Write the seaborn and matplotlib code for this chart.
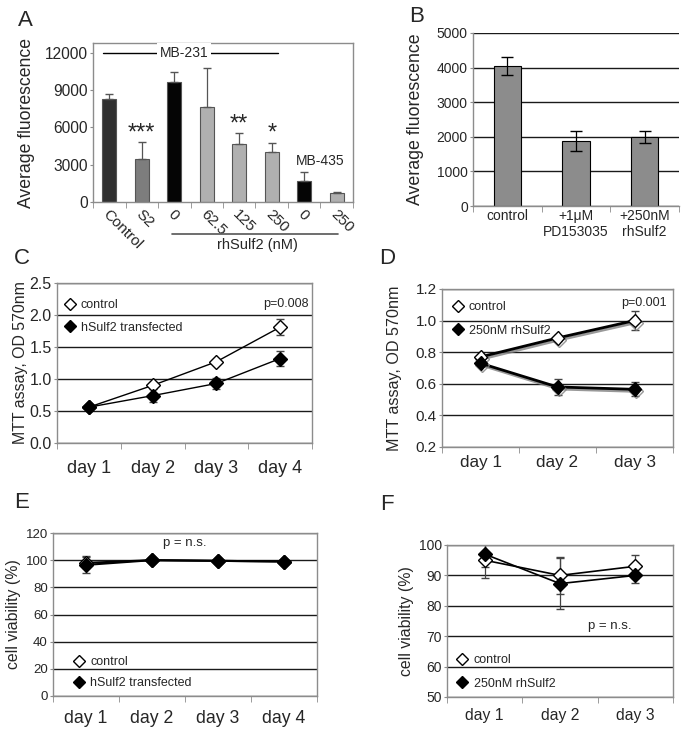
import numpy as np
import pandas as pd
import seaborn as sns
import matplotlib.pyplot as plt
import matplotlib.patheffects as pe
from matplotlib.lines import Line2D
from matplotlib.ticker import FixedLocator, FormatStrFormatter
from matplotlib.transforms import ScaledTranslation

sns.set_style('white')
plt.rcParams['font.family'] = ['Liberation Sans', 'DejaVu Sans']

# Panel A: invasion assay
a_labels = ['Control', 'S2', '0', '62.5', '125', '250', '0', '250']
a_values = [8300, 3500, 9650, 7650, 4650, 4050, 1700, 720]
a_errors = [420, 1300, 850, 3100, 870, 700, 700, 100]
a_colors = ['#303030', '#7d7d7d', '#050505', '#b0b0b0', '#b0b0b0', '#b0b0b0', '#050505', '#b0b0b0']
a_stars = ['', '***', '', '', '**', '*', '', '']

# Panel B
b_labels = ['control', '+1\u03bcM\nPD153035', '+250nM\nrhSulf2']
b_values = [4050, 1880, 2000]
b_errors = [250, 280, 170]

# Panel C: MTT, transfected
c_days = ['day 1', 'day 2', 'day 3', 'day 4']
c_control = [0.56, 0.90, 1.27, 1.81]
c_control_err = [0.03, 0.03, 0.03, 0.12]
c_sulf = [0.56, 0.74, 0.93, 1.32]
c_sulf_err = [0.04, 0.10, 0.09, 0.12]

# Panel D: MTT, rhSulf2
d_days = ['day 1', 'day 2', 'day 3']
d_control = [0.77, 0.89, 1.00]
d_control_err = [0.02, 0.02, 0.06]
d_sulf = [0.73, 0.58, 0.565]
d_sulf_err = [0.02, 0.05, 0.045]

# Panel E: viability, transfected
e_days = ['day 1', 'day 2', 'day 3', 'day 4']
e_control = [98, 100, 99.5, 99]
e_control_err = [4, 0.5, 0.5, 0.5]
e_sulf = [96.5, 100, 99.5, 99]
e_sulf_err = [6.3, 0.5, 0.5, 0.5]

# Panel F: viability, rhSulf2
f_days = ['day 1', 'day 2', 'day 3']
f_control = [95, 90, 93]
f_control_err = [6, 6, 3.7]
f_sulf = [97, 87.3, 90]
f_sulf_err = [4.3, 8.5, 2.6]

W, H = 685, 731
fig = plt.figure(figsize=(W / 100, H / 100), dpi=100)
SPINE = '#8c8c8c'


def ax_at(l, t, r, b):
    return fig.add_axes([l / W, 1 - b / H, (r - l) / W, (b - t) / H])


def style(ax, n, grid=True):
    for s in ax.spines.values():
        s.set_color(SPINE)
        s.set_linewidth(1)
    ax.set_xlim(-0.5, n - 0.5)
    ax.xaxis.set_minor_locator(FixedLocator(np.arange(n + 1) - 0.5))
    ax.tick_params(axis='x', which='major', length=0, bottom=False)
    ax.tick_params(axis='x', which='minor', length=4, color=SPINE, bottom=True, direction='out')
    ax.tick_params(axis='y', length=2.5, color=SPINE, left=True, direction='out', pad=1.2)
    ax.set_xlabel('')
    if grid:
        ax.yaxis.grid(True, color='#1a1a1a', linewidth=1)
    else:
        ax.yaxis.grid(False)
    ax.xaxis.grid(False)


def series(ax, days, vals, errs, filled, lw=1.0, ms=7, shadow=False):
    x = np.arange(len(days))
    ax.errorbar(x, vals, yerr=errs, fmt='none', ecolor='#444444', elinewidth=0.9,
                capsize=3, zorder=2)
    kw = {}
    if shadow:
        kw['path_effects'] = [pe.SimpleLineShadow(offset=(1, -1.5), shadow_color='#808080', alpha=0.8),
                              pe.Normal()]
    sns.lineplot(x=days, y=vals, ax=ax, color='black', lw=lw, marker='D', markersize=ms,
                 markerfacecolor='black' if filled else 'white', markeredgecolor='black',
                 markeredgewidth=1, sort=False, zorder=3, **kw)


def legend(ax, labels, anchor, spacing, fs=9):
    handles = [Line2D([], [], ls='none', marker='D', markersize=6, markerfacecolor='white',
                      markeredgecolor='black'),
               Line2D([], [], ls='none', marker='D', markersize=6, markerfacecolor='black',
                      markeredgecolor='black')]
    ax.legend(handles, labels, loc='upper left', bbox_to_anchor=anchor, frameon=False,
              borderaxespad=0, borderpad=0.2, handlelength=0.8, handletextpad=0.5,
              labelspacing=spacing, fontsize=fs)


def panel_letter(x, y, s):
    fig.text(x / W, 1 - y / H, s, fontsize=16, ha='center', va='center')


# ---- A ----
ax = ax_at(93, 43, 353, 202)
keys = [str(i) for i in range(len(a_labels))]
sns.barplot(x=keys, y=a_values, hue=keys, palette=a_colors, legend=False, order=keys,
            width=0.42, edgecolor='#555555', linewidth=0.8, ax=ax)
ax.errorbar(np.arange(len(keys)), a_values, yerr=[np.zeros(len(keys)), a_errors], fmt='none',
            ecolor='#555555', elinewidth=0.9, capsize=3)
style(ax, len(keys), grid=False)
ax.set_ylim(0, 12800)
ax.set_yticks(np.arange(0, 12001, 3000))
ax.set_xticks(np.arange(len(keys)))
ax.set_xticklabels(a_labels, rotation=-45, ha='left', va='top', fontsize=11)
off = ScaledTranslation(-9 / 100, 0, fig.dpi_scale_trans)
for t in ax.get_xticklabels():
    t.set_transform(t.get_transform() + off)
ax.tick_params(axis='y', labelsize=11.2)
ax.set_ylabel('Average fluorescence', fontsize=12.7)
ax.yaxis.set_label_coords(-0.225, 0.5)
for i, s in enumerate(a_stars):
    if s:
        ax.text(i, a_values[i] + a_errors[i] + 250, s, ha='center', va='baseline', fontsize=17)
ax.plot([-0.2, 5.2], [12000, 12000], color='black', lw=1)
ax.text(2.3, 12000, 'MB-231', ha='center', va='center', fontsize=10,
        bbox=dict(facecolor='white', edgecolor='none', pad=2))
ax.text(6.5, 3300, 'MB-435', ha='center', va='center', fontsize=10)
ax.plot([1.93, 7.04], [-0.2, -0.2], color='#555555', lw=1.2, clip_on=False,
        transform=ax.get_xaxis_transform())
ax.text(4.55, -0.27, 'rhSulf2 (nM)', ha='center', va='center', fontsize=10.5,
        transform=ax.get_xaxis_transform())
panel_letter(25, 20, 'A')

# ---- B ----
ax = ax_at(473, 33, 679, 206)
sns.barplot(x=b_labels, y=b_values, color='#8c8c8c', edgecolor='black', linewidth=0.8,
            width=0.4, saturation=1, ax=ax)
ax.errorbar(np.arange(3), b_values, yerr=b_errors, fmt='none', ecolor='black',
            elinewidth=0.9, capsize=4)
style(ax, 3)
ax.spines['right'].set_visible(False)
ax.spines['top'].set_visible(False)
ax.set_ylim(0, 5000)
ax.set_yticks(np.arange(0, 5001, 1000))
ax.tick_params(axis='both', labelsize=10)
ax.tick_params(axis='x', pad=2)
ax.set_ylabel('Average fluorescence', fontsize=12.8)
ax.yaxis.set_label_coords(-0.24, 0.5)
panel_letter(417, 17, 'B')

# ---- C ----
ax = ax_at(57, 283, 312, 443)
series(ax, c_days, c_control, c_control_err, False)
series(ax, c_days, c_sulf, c_sulf_err, True)
style(ax, 4)
ax.set_ylim(0, 2.5)
ax.set_yticks(np.arange(0, 2.51, 0.5))
ax.yaxis.set_major_formatter(FormatStrFormatter('%.1f'))
ax.tick_params(axis='y', labelsize=11.5)
ax.tick_params(axis='x', labelsize=13, pad=12)
ax.set_ylabel('MTT assay, OD 570nm', fontsize=11.4)
ax.yaxis.set_label_coords(-0.115, 0.5)
legend(ax, ['control', 'hSulf2 transfected'], (0.02, 0.915), 0.85)
ax.text(0.985, 0.87, 'p=0.008', ha='right', va='center', fontsize=9, transform=ax.transAxes)
panel_letter(22, 258, 'C')

# ---- D ----
ax = ax_at(442, 289, 673, 447)
series(ax, d_days, d_control, d_control_err, False, lw=2, shadow=True)
series(ax, d_days, d_sulf, d_sulf_err, True, lw=2, shadow=True)
style(ax, 3)
ax.set_ylim(0.2, 1.2)
ax.set_yticks(np.arange(0.2, 1.21, 0.2))
ax.yaxis.set_major_formatter(FormatStrFormatter('%.1f'))
ax.tick_params(axis='y', labelsize=11)
ax.tick_params(axis='x', labelsize=12.3, pad=6)
ax.set_ylabel('MTT assay, OD 570nm', fontsize=11.6)
ax.yaxis.set_label_coords(-0.175, 0.5)
legend(ax, ['control', '250nM rhSulf2'], (0.035, 0.94), 0.95)
ax.text(0.975, 0.91, 'p=0.001', ha='right', va='center', fontsize=9, transform=ax.transAxes)
panel_letter(387, 258, 'D')

# ---- E ----
ax = ax_at(53, 533, 317, 696)
series(ax, e_days, e_control, e_control_err, False, lw=1.5)
series(ax, e_days, e_sulf, e_sulf_err, True, lw=1.5)
style(ax, 4)
ax.set_ylim(0, 120)
ax.set_yticks(np.arange(0, 121, 20))
ax.tick_params(axis='y', labelsize=9.5)
ax.tick_params(axis='x', labelsize=12.7, pad=10)
ax.set_ylabel('cell viability (%)', fontsize=11.4)
ax.yaxis.set_label_coords(-0.12, 0.5)
legend(ax, ['control', 'hSulf2 transfected'], (0.07, 0.26), 0.75)
ax.text(0.5, 0.94, 'p = n.s.', ha='center', va='center', fontsize=9.5, transform=ax.transAxes)
panel_letter(22, 503, 'E')

# ---- F ----
ax = ax_at(447, 545, 673, 697)
series(ax, f_days, f_control, f_control_err, False, lw=1.2)
series(ax, f_days, f_sulf, f_sulf_err, True, lw=1.2)
style(ax, 3)
ax.set_ylim(50, 100)
ax.set_yticks(np.arange(50, 101, 10))
ax.tick_params(axis='y', labelsize=10)
ax.tick_params(axis='x', labelsize=11.3, pad=8)
ax.set_ylabel('cell viability (%)', fontsize=11.4)
ax.yaxis.set_label_coords(-0.148, 0.5)
legend(ax, ['control', '250nM rhSulf2'], (0.035, 0.30), 0.95)
ax.text(0.72, 0.47, 'p = n.s.', ha='center', va='center', fontsize=9.5, transform=ax.transAxes)
panel_letter(387, 505, 'F')

fig.savefig('out.png', dpi=100)
